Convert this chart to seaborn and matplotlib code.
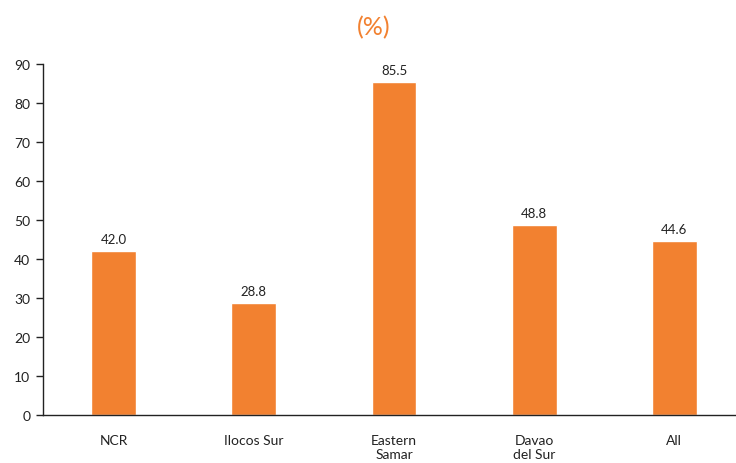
import pandas as pd
import matplotlib.pyplot as plt
import seaborn as sns

# data
regions = ["NCR", "Ilocos Sur", "Eastern\nSamar", "Davao\ndel Sur", "All"]
shares = [42.0, 28.8, 85.5, 48.8, 44.6]

df = pd.DataFrame({"region": regions, "share": shares})

sns.set_style("white")
plt.rcParams["font.family"] = ["Lato", "DejaVu Sans"]

orange = "#F28130"

fig = plt.figure(figsize=(7.36, 4.64), dpi=100)
ax = fig.add_axes([0.058, 0.103, 0.942, 0.757])

sns.barplot(data=df, x="region", y="share", color=orange, width=0.32,
            saturation=1, ax=ax)

for i, v in enumerate(shares):
    ax.text(i, v + 1.5, f"{v:.1f}", ha="center", va="bottom",
            fontsize=9.5, color="#222222")

ax.set_xlim(-0.507, 4.44)
ax.set_ylim(0, 90)
ax.set_yticks(range(0, 91, 10))
ax.set_xlabel("")
ax.set_ylabel("")
ax.tick_params(axis="y", left=True, length=5, width=1, labelsize=10,
               colors="#222222", pad=4)
ax.tick_params(axis="x", bottom=False, labelsize=10, colors="#222222", pad=10)

for s in ["top", "right"]:
    ax.spines[s].set_visible(False)
for s in ["left", "bottom"]:
    ax.spines[s].set_color("#222222")
    ax.spines[s].set_linewidth(1)

fig.text(0.508, 0.94, "(%)", ha="center", va="center", fontsize=18,
         color=orange)

plt.savefig("out.png", dpi=100)
